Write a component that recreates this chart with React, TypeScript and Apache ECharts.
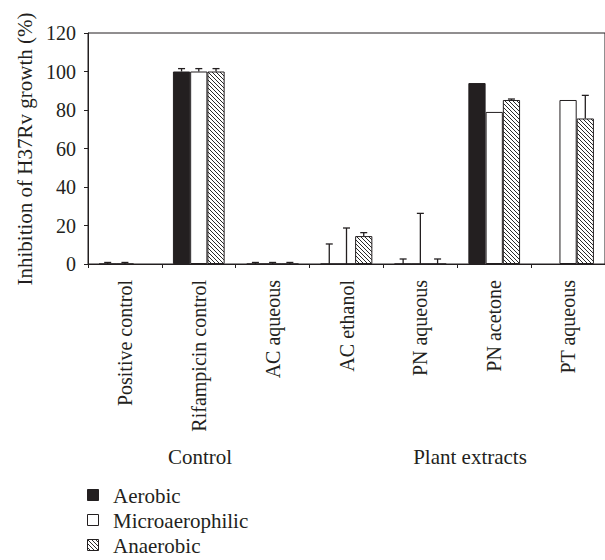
import React, { useEffect, useRef } from 'react';
import * as echarts from 'echarts';

const categories = [
  'Positive control',
  'Rifampicin control',
  'AC aqueous',
  'AC ethanol',
  'PN aqueous',
  'PN acetone',
  'PT aqueous',
];
const seriesNames = ['Aerobic', 'Microaerophilic', 'Anaerobic'];
const aerobic = [0, 100, 0, 0, 0, 94, null];
const aerobicErr = [0.8, 1.5, 0.8, 10.4, 2.6, 0, null];
const microaerophilic = [0, 100, 0, 0, 0, 79, 85.2];
const microErr = [0.8, 1.5, 0.8, 18.7, 26.3, 0, 0];
const anaerobic = [null, 100, 0, 14.5, 0, 85.2, 75.6];
const anaerobicErr = [null, 1.5, 0.8, 1.8, 2.6, 0.5, 12];
const yTicks = { min: 0, max: 120, interval: 20 };
const groupLabels = ['Control', 'Plant extracts'];
const yTitle = 'Inhibition of H37Rv growth (%)';

function makeHatch() {
  const c = document.createElement('canvas');
  c.width = 4;
  c.height = 4;
  const ctx = c.getContext('2d')!;
  ctx.fillStyle = '#ffffff';
  ctx.fillRect(0, 0, 4, 4);
  ctx.fillStyle = '#2a2a2a';
  for (let i = 0; i < 4; i++) ctx.fillRect(i, i, 1, 1);
  return c;
}

export default function App() {
  const ref = useRef<HTMLDivElement>(null);
  useEffect(() => {
    const chart = echarts.init(ref.current!, null, { renderer: 'svg' });
    const ink = '#231f20';
    const font = '"Liberation Serif", "Times New Roman", Times, serif';
    const hatchCanvas = makeHatch();
    const hatch: any = { image: hatchCanvas, repeat: 'repeat', imageWidth: 4, imageHeight: 4 };
    const GAP = 0.3;
    const defs = [
      { name: seriesNames[0], data: aerobic, err: aerobicErr, color: ink },
      { name: seriesNames[1], data: microaerophilic, err: microErr, color: '#ffffff' },
      { name: seriesNames[2], data: anaerobic, err: anaerobicErr, color: hatch },
    ];
    const bars = defs.map((s) => ({
      name: s.name,
      type: 'bar',
      data: s.data.map((v) => (v === null ? '-' : v)),
      barGap: '0%',
      barCategoryGap: GAP * 100 + '%',
      itemStyle: { color: s.color, borderColor: ink, borderWidth: 1 },
      emphasis: { disabled: true },
      silent: true,
    }));
    const errs = defs.map((s, k) => ({
      type: 'custom',
      name: s.name + ' SD',
      silent: true,
      z: 5,
      data: s.data.map((v, i) => [i, v === null ? 0 : v, s.err[i] === null ? 0 : s.err[i], v === null ? 0 : 1]),
      renderItem: (params: any, api: any) => {
        const i = api.value(0);
        const v = api.value(1);
        const e = api.value(2);
        const present = api.value(3);
        if (!present || !(e > 0)) return { type: 'group', children: [] };
        const band = api.size([1, 0])[0];
        const bw = (band * (1 - GAP)) / 3;
        const cx = api.coord([i, 0])[0] + (k - 1) * bw;
        const y0 = api.coord([i, v])[1];
        const y1 = api.coord([i, v + e])[1];
        const style = { stroke: ink, lineWidth: 1.3 };
        return {
          type: 'group',
          children: [
            { type: 'line', shape: { x1: cx, y1: y0, x2: cx, y2: y1 }, style },
            { type: 'line', shape: { x1: cx - 3.5, y1: y1, x2: cx + 3.5, y2: y1 }, style },
          ],
        };
      },
    }));
    const textStyle = (text: string, extra: any = {}) => ({
      text,
      fontFamily: font,
      fontSize: 21,
      fill: ink,
      ...extra,
    });
    const legendGraphics: any[] = [];
    defs.forEach((s, k) => {
      const cy = 495 + k * 25;
      legendGraphics.push({
        type: 'rect',
        shape: { x: 87.5, y: cy - 5.5, width: 11, height: 11 },
        style: { fill: s.color, stroke: ink, lineWidth: 1 },
      });
      legendGraphics.push({
        type: 'text',
        x: 113,
        y: cy + 1,
        style: textStyle(s.name, { align: 'left', verticalAlign: 'middle' }),
      });
    });
    const option: any = {
      animation: false,
      grid: {
        left: 88,
        right: -8,
        top: 33,
        bottom: 296,
        show: true,
        borderColor: ink,
        borderWidth: 1,
        backgroundColor: 'transparent',
      },
      xAxis: {
        type: 'category',
        data: categories,
        axisLine: { show: true, lineStyle: { color: ink, width: 1 } },
        axisTick: { show: true, length: 4, lineStyle: { color: ink } },
        axisLabel: { rotate: 90, margin: 16, fontFamily: font, fontSize: 20, color: ink, interval: 0 },
      },
      yAxis: {
        type: 'value',
        min: yTicks.min,
        max: yTicks.max,
        interval: yTicks.interval,
        axisLine: { show: true, lineStyle: { color: ink, width: 1 } },
        axisTick: { show: true, length: 4, lineStyle: { color: ink } },
        splitLine: { show: false },
        axisLabel: { margin: 12, fontFamily: font, fontSize: 20, color: ink },
      },
      graphic: [
        {
          type: 'text',
          x: 25,
          y: 149,
          rotation: Math.PI / 2,
          style: textStyle(yTitle, { align: 'center', verticalAlign: 'middle' }),
        },
        {
          type: 'text',
          x: 200,
          y: 457,
          style: textStyle(groupLabels[0], { align: 'center', verticalAlign: 'middle' }),
        },
        {
          type: 'text',
          x: 470,
          y: 457,
          style: textStyle(groupLabels[1], { align: 'center', verticalAlign: 'middle' }),
        },
        ...legendGraphics,
      ],
      series: [...bars, ...errs],
    };
    chart.setOption(option);
    return () => chart.dispose();
  }, []);
  return <div ref={ref} style={{ width: 605, height: 560, position: 'absolute', left: 0, top: 0 }} />;
}
